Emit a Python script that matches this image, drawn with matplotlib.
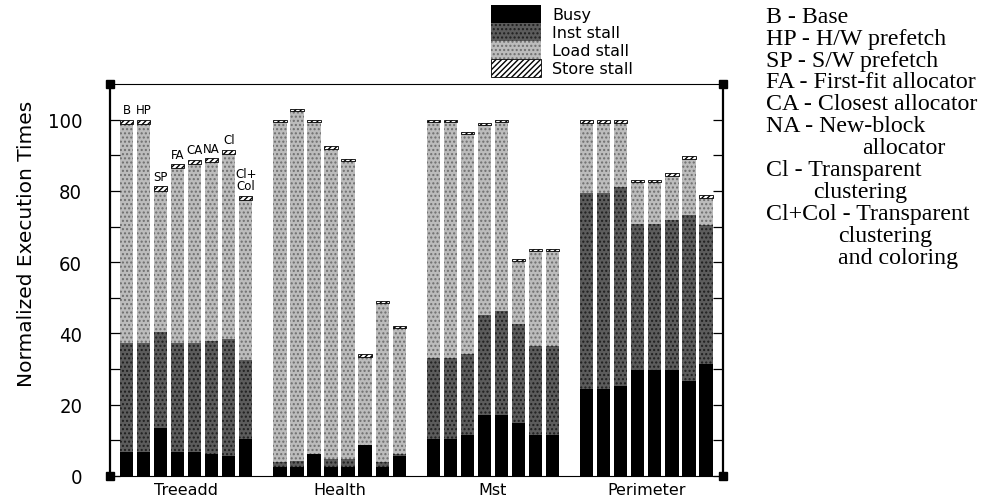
import matplotlib
matplotlib.use("Agg")
import matplotlib.pyplot as plt
import numpy as np

# benchmark groups and the per-bar variants
benchmarks = ["Treeadd", "Health", "Mst", "Perimeter"]
variants = ["B", "HP", "SP", "FA", "CA", "NA", "Cl", "Cl+\nCol"]

# segment heights (normalized execution time), 8 bars per benchmark
busy = {
    "Treeadd":   [6.6, 6.6, 13.4, 6.6, 6.6, 6.3, 5.7, 10.4],
    "Health":    [2.4, 2.4, 6.2, 2.5, 2.5, 8.8, 2.5, 5.7],
    "Mst":       [10.4, 10.4, 11.6, 17.2, 17.2, 14.8, 11.6, 11.6],
    "Perimeter": [24.4, 24.4, 25.3, 29.8, 29.8, 29.8, 26.7, 31.4],
}
inst_stall = {
    "Treeadd":   [30.8, 30.8, 27.1, 30.8, 30.8, 31.6, 32.7, 22.1],
    "Health":    [1.4, 1.9, 0.0, 2.3, 2.3, 0.0, 1.5, 0.5],
    "Mst":       [22.8, 22.8, 22.5, 28.1, 29.0, 27.8, 24.9, 24.9],
    "Perimeter": [55.1, 55.1, 55.8, 41.0, 41.0, 41.9, 46.4, 38.9],
}
load_stall = {
    "Treeadd":   [61.4, 61.4, 39.6, 49.0, 50.2, 50.1, 52.0, 45.0],
    "Health":    [95.6, 98.1, 93.2, 87.1, 83.6, 24.7, 44.5, 35.3],
    "Mst":       [66.2, 66.2, 61.9, 53.2, 53.2, 17.6, 26.7, 26.7],
    "Perimeter": [19.5, 19.5, 17.9, 11.6, 11.6, 12.5, 15.8, 7.8],
}
store_stall = {
    "Treeadd":   [1.2, 1.2, 1.2, 1.2, 1.2, 1.2, 1.2, 1.2],
    "Health":    [0.6, 0.6, 0.6, 0.6, 0.6, 0.6, 0.6, 0.6],
    "Mst":       [0.6, 0.6, 0.6, 0.6, 0.6, 0.6, 0.6, 0.6],
    "Perimeter": [1.0, 1.0, 1.0, 0.8, 0.8, 0.8, 1.0, 0.8],
}

legend_labels = ["Busy", "Inst stall", "Load stall", "Store stall"]

key_lines = [
    ("B - Base", 0),
    ("HP - H/W prefetch", 0),
    ("SP - S/W prefetch", 0),
    ("FA - First-fit allocator", 0),
    ("CA - Closest allocator", 0),
    ("NA - New-block", 0),
    ("allocator", 96),
    ("Cl - Transparent", 0),
    ("clustering", 47),
    ("Cl+Col - Transparent", 0),
    ("clustering", 72),
    ("and coloring", 72),
]

W, H = 988, 502
fig = plt.figure(figsize=(W / 100, H / 100), dpi=100)
ax = fig.add_axes([110 / W, 1 - 477 / H, 613 / W, 392 / H])

n = len(variants)
x = np.concatenate([g * (n + 1) + np.arange(n) for g in range(len(benchmarks))])
b = np.concatenate([busy[k] for k in benchmarks])
i = np.concatenate([inst_stall[k] for k in benchmarks])
l = np.concatenate([load_stall[k] for k in benchmarks])
s = np.concatenate([store_stall[k] for k in benchmarks])

width = 0.78
h1 = ax.bar(x, b, width, color="black", linewidth=0)
h2 = ax.bar(x, i, width, bottom=b, facecolor="#5c5c5c", edgecolor="#1e1e1e",
            hatch="....", linewidth=0)
h3 = ax.bar(x, l, width, bottom=b + i, facecolor="#bcbcbc", edgecolor="#6e6e6e",
            hatch="....", linewidth=0)
h4 = ax.bar(x, s, width, bottom=b + i + l, facecolor="white", edgecolor="black",
            hatch="//////", linewidth=0.6)

# variant names over the first group
tops = b + i + l + s
for k in range(n):
    ax.text(x[k], tops[k] + 0.9, variants[k], ha="center", va="bottom",
            fontsize=8.5, linespacing=0.95)

ax.set_xlim(-0.97, 35.0)
ax.set_ylim(0, 110)

ax.set_yticks(np.arange(0, 101, 20))
ax.set_yticks(np.arange(0, 101, 10), minor=True)
ax.set_yticklabels([str(v) for v in range(0, 101, 20)], fontsize=14.5,
                   fontstretch="condensed")
ax.tick_params(axis="y", which="both", direction="in", length=7, width=0.9,
               right=True, pad=20)

centers = [g * (n + 1) + (n - 1) / 2 for g in range(len(benchmarks))]
ax.set_xticks(centers)
ax.set_xticklabels(benchmarks, fontsize=11.5)
ax.tick_params(axis="x", length=0, pad=4)

ax.spines["left"].set_linewidth(1.6)
ax.spines["right"].set_linewidth(1.6)
ax.spines["top"].set_linewidth(0.8)
ax.spines["bottom"].set_linewidth(0.8)

# corner blocks of the frame
ax.plot([0, 0, 1, 1], [0, 1, 0, 1], "s", color="black", markersize=6,
        transform=ax.transAxes, clip_on=False)

fig.text(27 / W, 1 - 244 / H, "Normalized Execution Times", rotation=90,
         ha="center", va="center", fontsize=14.5)

fig.legend([h1, h2, h3, h4], legend_labels, loc="upper left",
           bbox_to_anchor=(491 / W, 1 - 6 / H), frameon=False, fontsize=11.5,
           handlelength=3.1, handleheight=1.35, labelspacing=0.0,
           handletextpad=0.75, borderpad=0, borderaxespad=0)

# abbreviation key on the right
for row, (txt, indent) in enumerate(key_lines):
    y = 22.7 + row * 21.9
    fig.text((766 + indent) / W, 1 - y / H, txt, ha="left", va="baseline",
             family="Liberation Serif", fontsize=17.2)

fig.savefig("out.png", dpi=100)
